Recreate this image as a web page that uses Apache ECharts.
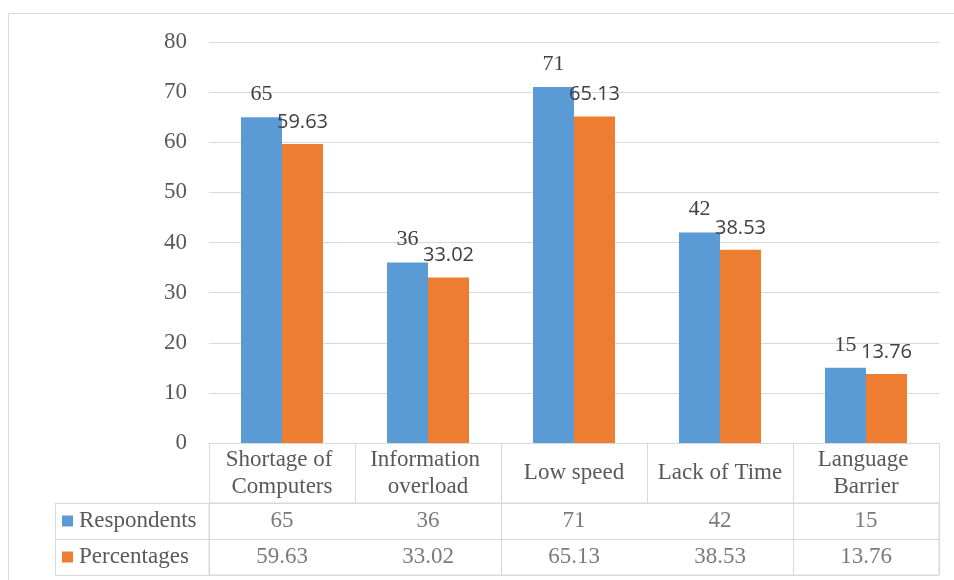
<!DOCTYPE html>
<html>
<head>
<meta charset="utf-8">
<script src="https://cdn.jsdelivr.net/npm/echarts@6/dist/echarts.min.js"></script>
<style>html,body{margin:0;padding:0;background:#fff}#c{width:954px;height:580px}</style>
</head>
<body>
<div id="c"></div>
<script>
const categories = ['Shortage of Computers', 'Information overload', 'Low speed', 'Lack of Time', 'Language Barrier'];
const rowNames = ['Respondents', 'Percentages'];
const respondents = [65, 36, 71, 42, 15];
const percentages = [59.63, 33.02, 65.13, 38.53, 13.76];
const yTicks = { min: 0, max: 80, interval: 10 };

const BLUE = '#5b9bd5', ORANGE = '#ed7d31', GRID = '#d9d9d9', TXT = '#595959';
const SERIF = 'Liberation Serif';

const tableData = [];
categories.forEach((c, i) => {
  tableData.push([c, rowNames[0], respondents[i]]);
  tableData.push([c, rowNames[1], percentages[i].toFixed(2)]);
});

const chart = echarts.init(document.getElementById('c'));
chart.setOption({
  animation: false,
  graphic: [{
    type: 'rect', silent: true, z: -1,
    shape: { x: 8.5, y: 13.5, width: 1000, height: 1000 },
    style: { fill: 'none', stroke: GRID, lineWidth: 1 }
  }],
  grid: [
    { left: 209, right: 15, top: 42, bottom: 137 },
    { left: 209, right: 15, top: 503, bottom: 5, show: true, borderColor: GRID, borderWidth: 1 }
  ],
  xAxis: [
    {
      gridIndex: 0, type: 'category', data: categories,
      axisLine: { show: true, lineStyle: { color: GRID, width: 1 } },
      axisTick: { show: true, length: 60, lineStyle: { color: GRID, width: 1 } },
      axisLabel: {
        interval: 0, margin: 30, verticalAlign: 'middle',
        width: 140, overflow: 'break', lineHeight: 27,
        fontFamily: SERIF, fontSize: 23, color: TXT
      }
    },
    {
      gridIndex: 1, type: 'category', data: categories,
      axisLine: { show: false }, axisTick: { show: false }, axisLabel: { show: false },
      splitLine: { show: true, lineStyle: { color: GRID, width: 1 } }
    }
  ],
  yAxis: [
    {
      gridIndex: 0, type: 'value', min: yTicks.min, max: yTicks.max, interval: yTicks.interval,
      axisLine: { show: false }, axisTick: { show: false },
      axisLabel: { margin: 22, fontFamily: SERIF, fontSize: 23, color: TXT },
      splitLine: { lineStyle: { color: GRID, width: 1 } }
    },
    {
      gridIndex: 1, type: 'category', data: rowNames, inverse: true,
      axisLine: { show: false },
      axisTick: { show: true, length: 154, lineStyle: { color: GRID, width: 1 } },
      splitLine: { show: true, lineStyle: { color: GRID, width: 1 } },
      axisLabel: {
        margin: 147, align: 'left',
        formatter: (v) => (v === rowNames[0] ? '{b|}' : '{o|}') + '{g|}{t|' + v + '}',
        rich: {
          b: { width: 11, height: 11, backgroundColor: BLUE },
          o: { width: 11, height: 11, backgroundColor: ORANGE },
          g: { width: 6 },
          t: { fontFamily: SERIF, fontSize: 23, color: TXT }
        }
      }
    },
    {
      gridIndex: 1, type: 'category', data: rowNames, inverse: true, position: 'left', offset: 154,
      axisLine: { show: true, lineStyle: { color: GRID, width: 1 } },
      axisTick: { show: false }, axisLabel: { show: false }
    }
  ],
  series: [
    {
      name: rowNames[0], type: 'bar', xAxisIndex: 0, yAxisIndex: 0,
      data: respondents, barWidth: 41, barGap: '0%',
      itemStyle: { color: BLUE },
      label: { show: true, position: 'top', distance: 12, fontFamily: SERIF, fontSize: 22, color: '#404040' }
    },
    {
      name: rowNames[1], type: 'bar', xAxisIndex: 0, yAxisIndex: 0,
      data: percentages, barWidth: 41, barGap: '0%',
      itemStyle: { color: ORANGE },
      label: { show: true, position: 'top', distance: 12, fontFamily: 'Open Sans', fontSize: 20, color: '#404040',
        formatter: (p) => p.value.toFixed(2) }
    },
    {
      type: 'scatter', xAxisIndex: 1, yAxisIndex: 1,
      data: tableData, symbolSize: 1, itemStyle: { color: 'rgba(0,0,0,0)' },
      label: { show: true, position: 'inside', formatter: (p) => p.value[2], fontFamily: SERIF, fontSize: 23, color: TXT }
    }
  ]
});
</script>
</body>
</html>
